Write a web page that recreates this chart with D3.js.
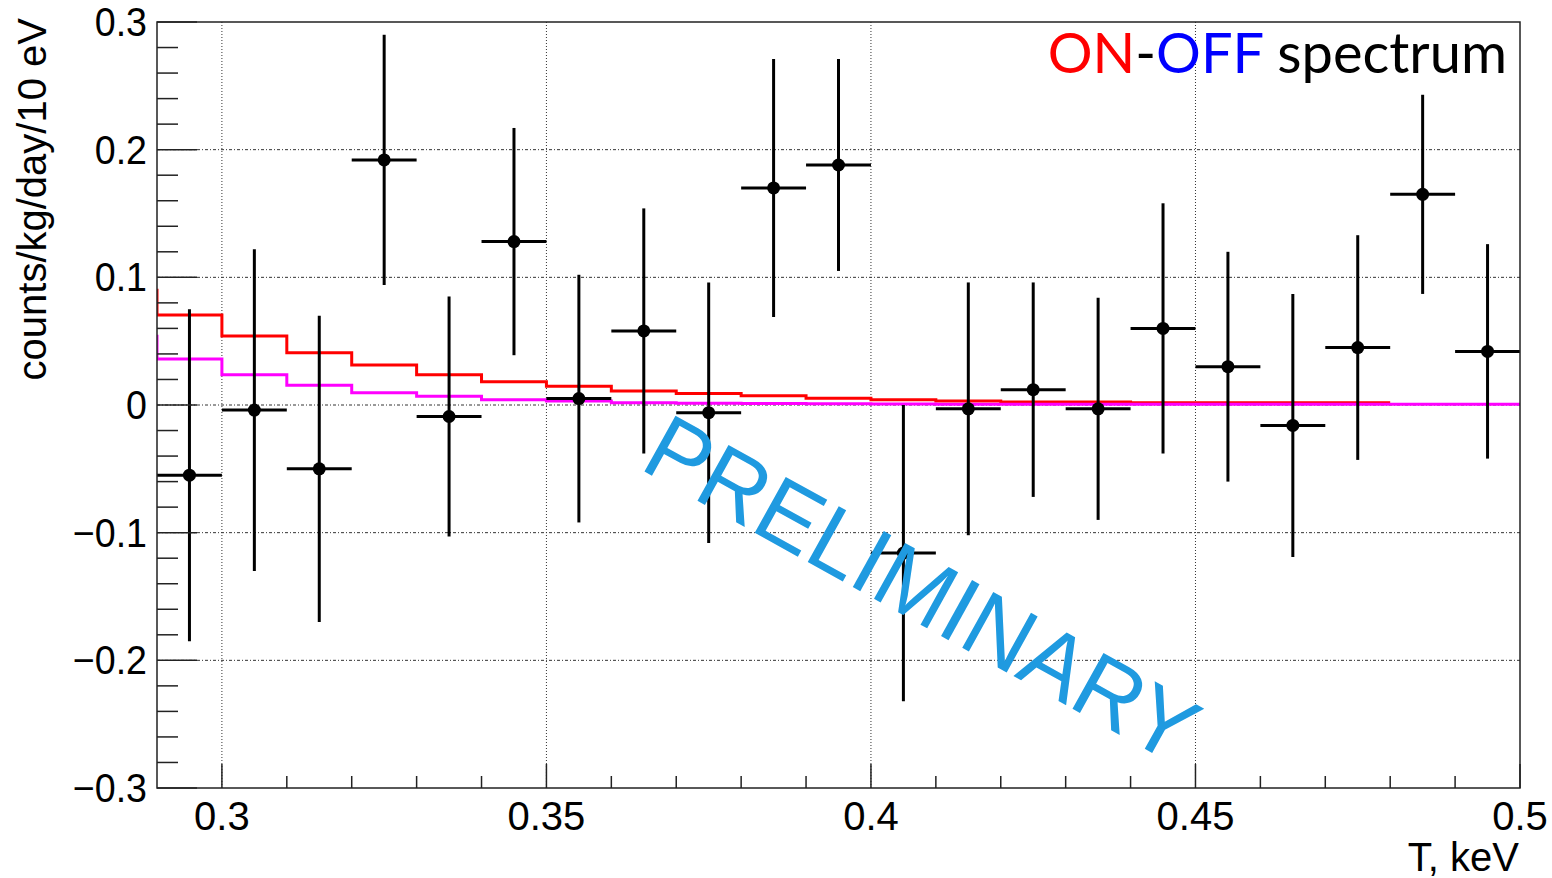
<!DOCTYPE html>
<html>
<head>
<meta charset="utf-8">
<script src="https://cdn.jsdelivr.net/npm/d3@7"></script>
<style>
  html, body { margin: 0; padding: 0; background: #fff; }
  svg { display: block; }
</style>
</head>
<body>
<svg id="chart" width="1552" height="878"></svg>
<script>
// ON-OFF spectrum: measured points with errors, two model step curves
const energy = [0.295, 0.305, 0.315, 0.325, 0.335, 0.345, 0.355, 0.365, 0.375, 0.385, 0.395,
                0.405, 0.415, 0.425, 0.435, 0.445, 0.455, 0.465, 0.475, 0.485, 0.495];
const counts = [-0.055, -0.004, -0.050, 0.192, -0.009, 0.128, 0.005, 0.058, -0.006, 0.170, 0.188,
                -0.116, -0.003, 0.012, -0.003, 0.060, 0.030, -0.016, 0.045, 0.165, 0.042];
const countErr = [0.130, 0.126, 0.120, 0.098, 0.094, 0.089, 0.097, 0.096, 0.102, 0.101, 0.083,
                  0.116, 0.099, 0.084, 0.087, 0.098, 0.090, 0.103, 0.088, 0.078, 0.084];
const halfBin = 0.005;

// model curves: value entering the range, then one value per 10 eV bin (lower edges)
const redEdges = [0.29, 0.29, 0.30, 0.31, 0.32, 0.33, 0.34, 0.35, 0.36, 0.37, 0.38, 0.39, 0.40,
                  0.41, 0.42, 0.43, 0.44, 0.45, 0.46, 0.47, 0.48];
const redValues = [0.091, 0.0705, 0.054, 0.041, 0.0313, 0.0237, 0.0183, 0.0146, 0.011, 0.009, 0.0073,
                   0.0052, 0.0042, 0.0031, 0.0023, 0.0024, 0.0018, 0.0018, 0.0018, 0.0018, 0.0018];
const magEdges = [0.29, 0.29, 0.30, 0.31, 0.32, 0.33, 0.34, 0.35, 0.36, 0.37, 0.38, 0.39, 0.40,
                  0.41, 0.42, 0.43, 0.44, 0.45, 0.46, 0.47, 0.48, 0.49, 0.50];
const magValues = [0.055, 0.036, 0.0237, 0.0154, 0.0096, 0.0068, 0.0042, 0.0032, 0.0018, 0.0013, 0.0011,
                   0.0009, 0.0007, 0.0006, 0.0006, 0.0005, 0.0005, 0.0005, 0.0005, 0.0005, 0.0005, 0.0005, 0.0005];

const xMajor = [0.3, 0.35, 0.4, 0.45, 0.5];
const xMajorLabels = ["0.3", "0.35", "0.4", "0.45", "0.5"];
const yMajor = [-0.3, -0.2, -0.1, 0, 0.1, 0.2, 0.3];
const yMajorLabels = ["\u22120.3", "\u22120.2", "\u22120.1", "0", "0.1", "0.2", "0.3"];
const xMinor = [0.30, 0.31, 0.32, 0.33, 0.34, 0.35, 0.36, 0.37, 0.38, 0.39, 0.40,
                0.41, 0.42, 0.43, 0.44, 0.45, 0.46, 0.47, 0.48, 0.49];
const yMinor = [-0.28, -0.26, -0.24, -0.22, -0.18, -0.16, -0.14, -0.12, -0.08, -0.06, -0.04, -0.02,
                0.02, 0.04, 0.06, 0.08, 0.12, 0.14, 0.16, 0.18, 0.22, 0.24, 0.26, 0.28];

const W = 1552, H = 878;
const frame = { left: 157, right: 1520, top: 22, bottom: 788 };
const svg = d3.select("#chart");

const x = d3.scaleLinear().domain([0.29, 0.5]).range([frame.left, frame.right]);
const y = d3.scaleLinear().domain([-0.3, 0.3]).range([frame.bottom, frame.top]);

const tickFont = "'Liberation Sans', Arial, Helvetica, sans-serif";

// grid
const grid = svg.append("g");
grid.selectAll("line.gx").data(xMajor.filter(v => v < 0.5)).join("line")
  .attr("x1", d => x(d)).attr("x2", d => x(d))
  .attr("y1", frame.top).attr("y2", frame.bottom)
  .attr("stroke", "#333").attr("stroke-width", 1).attr("stroke-dasharray", "1,2");
grid.selectAll("line.gy").data(yMajor.filter(v => v > -0.3 && v < 0.3)).join("line")
  .attr("x1", frame.left).attr("x2", frame.right)
  .attr("y1", d => y(d)).attr("y2", d => y(d))
  .attr("stroke", "#333").attr("stroke-width", 1).attr("stroke-dasharray", "3,2,1,2");

// clip for curves
svg.append("clipPath").attr("id", "plotClip").append("rect")
  .attr("x", frame.left).attr("y", frame.top)
  .attr("width", frame.right - frame.left).attr("height", frame.bottom - frame.top);

const stepLine = d3.line().x(d => x(d[0])).y(d => y(d[1])).curve(d3.curveStepAfter);
const curves = svg.append("g").attr("clip-path", "url(#plotClip)");
curves.append("path")
  .datum(redEdges.map((e, i) => [e, redValues[i]]))
  .attr("d", stepLine).attr("fill", "none").attr("stroke", "#ff0000").attr("stroke-width", 3);
curves.append("path")
  .datum(magEdges.map((e, i) => [e, magValues[i]]))
  .attr("d", stepLine).attr("fill", "none").attr("stroke", "#ff00ff").attr("stroke-width", 3);

// data points with error bars
const pts = svg.append("g").attr("clip-path", "url(#plotClip)");
const pdata = energy.map((e, i) => ({ e, v: counts[i], err: countErr[i] }));
pts.selectAll("line.ex").data(pdata).join("line")
  .attr("x1", d => x(d.e - halfBin)).attr("x2", d => x(d.e + halfBin))
  .attr("y1", d => y(d.v)).attr("y2", d => y(d.v))
  .attr("stroke", "#000").attr("stroke-width", 3);
pts.selectAll("line.ey").data(pdata).join("line")
  .attr("x1", d => x(d.e)).attr("x2", d => x(d.e))
  .attr("y1", d => y(d.v - d.err)).attr("y2", d => y(d.v + d.err))
  .attr("stroke", "#000").attr("stroke-width", 3);
pts.selectAll("circle").data(pdata).join("circle")
  .attr("cx", d => x(d.e)).attr("cy", d => y(d.v)).attr("r", 6.5).attr("fill", "#000");

// frame
svg.append("rect")
  .attr("x", frame.left).attr("y", frame.top)
  .attr("width", frame.right - frame.left).attr("height", frame.bottom - frame.top)
  .attr("fill", "none").attr("stroke", "#222").attr("stroke-width", 1.5);

// ticks
const ticks = svg.append("g").attr("stroke", "#222").attr("stroke-width", 1.5);
ticks.selectAll("line.xM").data(xMajor).join("line")
  .attr("x1", d => x(d)).attr("x2", d => x(d))
  .attr("y1", frame.bottom).attr("y2", frame.bottom - 24);
ticks.selectAll("line.xm").data(xMinor.filter(v => !xMajor.some(m => Math.abs(m - v) < 1e-9))).join("line")
  .attr("x1", d => x(d)).attr("x2", d => x(d))
  .attr("y1", frame.bottom).attr("y2", frame.bottom - 12);
ticks.selectAll("line.yM").data(yMajor).join("line")
  .attr("x1", frame.left).attr("x2", frame.left + 40)
  .attr("y1", d => y(d)).attr("y2", d => y(d));
ticks.selectAll("line.ym").data(yMinor).join("line")
  .attr("x1", frame.left).attr("x2", frame.left + 21)
  .attr("y1", d => y(d)).attr("y2", d => y(d));

// tick labels
svg.append("g").selectAll("text").data(xMajor).join("text")
  .attr("x", d => x(d)).attr("y", 830)
  .attr("text-anchor", "middle")
  .attr("font-family", tickFont).attr("font-size", 40).attr("fill", "#000")
  .text((d, i) => xMajorLabels[i]);
svg.append("g").selectAll("text").data(yMajor).join("text")
  .attr("transform", d => `translate(147,${y(d) + 14}) scale(0.94,1)`)
  .attr("text-anchor", "end")
  .attr("font-family", tickFont).attr("font-size", 40).attr("fill", "#000")
  .text((d, i) => yMajorLabels[i]);

// axis titles
svg.append("text")
  .attr("x", 1519).attr("y", 871)
  .attr("text-anchor", "end")
  .attr("font-family", tickFont).attr("font-size", 40).attr("fill", "#000")
  .text("T, keV");
svg.append("text")
  .attr("transform", "translate(46,18) rotate(-90)")
  .attr("text-anchor", "end")
  .attr("font-family", tickFont).attr("font-size", 40).attr("fill", "#000")
  .text("counts/kg/day/10 eV");

// title in the corner
const title = svg.append("text")
  .attr("x", 1507).attr("y", 73)
  .attr("text-anchor", "end")
  .attr("font-family", "Lato, 'Open Sans', sans-serif").attr("font-size", 56);
title.append("tspan").attr("fill", "#ff0000").text("ON");
title.append("tspan").attr("fill", "#000").text("-");
title.append("tspan").attr("fill", "#0000ff").text("OFF");
title.append("tspan").attr("fill", "#000").text(" spectrum");

// watermark
svg.append("text")
  .attr("transform", "translate(638,468) rotate(29)")
  .attr("font-family", tickFont).attr("font-size", 93)
  .attr("fill", "#1f9ae0")
  .attr("textLength", 614).attr("lengthAdjust", "spacingAndGlyphs")
  .text("PRELIMINARY");
</script>
</body>
</html>
